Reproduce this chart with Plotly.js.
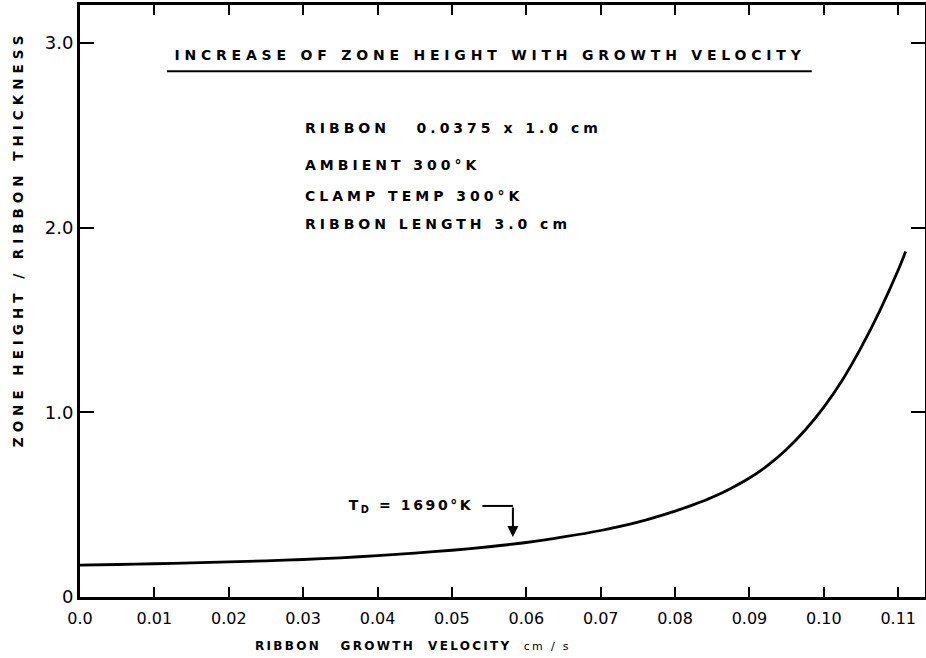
<!DOCTYPE html>
<html>
<head>
<meta charset="utf-8">
<script src="https://cdn.plot.ly/plotly-3.0.1.min.js"></script>
<style>
html,body{margin:0;padding:0;background:#fff;}
#chart{width:926px;height:658px;}
.annotation[data-index="0"] .annotation-text{letter-spacing:4.8px;}
.annotation[data-index="1"] .annotation-text,
.annotation[data-index="2"] .annotation-text,
.annotation[data-index="3"] .annotation-text,
.annotation[data-index="4"] .annotation-text{letter-spacing:4px;}
.annotation[data-index="5"] .annotation-text{letter-spacing:2.6px;}
.annotation[data-index="7"] .annotation-text{letter-spacing:2.3px;}
.annotation[data-index="8"] .annotation-text{letter-spacing:5px;}
</style>
</head>
<body>
<div id="chart"></div>
<script>
// Data
var velocity = [0, 0.005, 0.01, 0.015, 0.02, 0.025, 0.03, 0.035, 0.04, 0.045, 0.05, 0.055, 0.06, 0.065, 0.07, 0.075, 0.08, 0.0825, 0.085, 0.0875, 0.09, 0.0925, 0.095, 0.0975, 0.1, 0.1025, 0.105, 0.1075, 0.11, 0.111];
var zoneRatio = [0.173, 0.176, 0.18, 0.185, 0.19, 0.196, 0.203, 0.212, 0.224, 0.238, 0.253, 0.272, 0.295, 0.325, 0.36, 0.405, 0.465, 0.5, 0.54, 0.588, 0.644, 0.714, 0.8, 0.904, 1.028, 1.175, 1.35, 1.548, 1.77, 1.87];

var xTickVals = [0, 0.01, 0.02, 0.03, 0.04, 0.05, 0.06, 0.07, 0.08, 0.09, 0.10, 0.11];
var xTickText = ["0.0", "0.01", "0.02", "0.03", "0.04", "0.05", "0.06", "0.07", "0.08", "0.09", "0.10", "0.11"];
var yTickVals = [0, 1, 2, 3];
var yTickText = ["0", "1.0", "2.0", "3.0"];

var chartTitle = "INCREASE OF ZONE HEIGHT WITH GROWTH VELOCITY";
var notes = ["RIBBON\u00A0\u00A0 0.0375 x 1.0 cm", "AMBIENT 300°K", "CLAMP TEMP 300°K", "RIBBON LENGTH 3.0 cm"];
var noteY = [2.54, 2.34, 2.17, 2.02];
var markerLabel = "T<sub>D</sub> = 1690°K";
var markerX = 0.0582;
var markerLabelY = 0.493;
var markerTipY = 0.325;
var xTitle = "<b>RIBBON\u00A0\u00A0 GROWTH\u00A0 VELOCITY</b>\u00A0 <span style='font-size:11px'>cm / s</span>";
var yTitle = "<b>ZONE HEIGHT / RIBBON THICKNESS</b>";

var font = "DejaVu Sans, Arial, sans-serif";

var trace = {
  x: velocity, y: zoneRatio, type: "scatter", mode: "lines",
  line: {color: "#000", width: 2.8, shape: "spline", smoothing: 0.6},
  hoverinfo: "skip", showlegend: false
};

var annotations = [
  {xref: "paper", yref: "paper", x: 0.486, y: 0.916, xanchor: "center", yanchor: "middle",
   text: "<b>" + chartTitle + "</b>", showarrow: false, font: {family: font, size: 14, color: "#000"}}
];
for (var i = 0; i < notes.length; i++) {
  annotations.push({xref: "x", yref: "y", x: 0.0300, y: noteY[i], xanchor: "left", yanchor: "middle",
    align: "left", text: "<b>" + notes[i] + "</b>", showarrow: false,
    font: {family: font, size: 14, color: "#000"}});
}
annotations.push({xref: "x", yref: "y", x: 0.0446, y: markerLabelY, xanchor: "center", yanchor: "middle",
  text: "<b>" + markerLabel + "</b>", showarrow: false, font: {family: font, size: 14, color: "#000"}});
annotations.push({xref: "x", yref: "y", x: markerX, y: markerTipY, axref: "x", ayref: "y",
  ax: markerX, ay: markerLabelY, text: "", showarrow: true, arrowhead: 2, arrowsize: 1.1,
  arrowwidth: 2, arrowcolor: "#000", standoff: 0, startstandoff: 0});
annotations.push({xref: "paper", yref: "paper", x: 0.394, y: -0.083, xanchor: "center", yanchor: "middle",
  text: xTitle, showarrow: false, font: {family: font, size: 12, color: "#000"}});
annotations.push({xref: "paper", yref: "paper", x: -0.073, y: 0.605, xanchor: "center", yanchor: "middle",
  textangle: -90, text: yTitle, showarrow: false, font: {family: font, size: 13.5, color: "#000"}});

var layout = {
  width: 926, height: 658,
  margin: {l: 80, r: 1, t: 5, b: 61},
  paper_bgcolor: "#fff", plot_bgcolor: "#fff",
  font: {family: font, color: "#000"},
  xaxis: {
    range: [0, 0.1136], tickvals: xTickVals, ticktext: xTickText,
    ticks: "inside", ticklen: 10, tickwidth: 2, tickcolor: "#000",
    showline: true, linewidth: 3, linecolor: "#000", mirror: "ticks",
    showgrid: false, zeroline: false, ticklabelstandoff: 5,
    tickfont: {family: font, size: 16, color: "#000"}
  },
  yaxis: {
    range: [0, 3.205], tickvals: yTickVals, ticktext: yTickText,
    ticks: "inside", ticklen: 14, tickwidth: 2, tickcolor: "#000",
    showline: true, linewidth: 3, linecolor: "#000", mirror: "ticks",
    showgrid: false, zeroline: false,
    tickfont: {family: font, size: 18, color: "#000"}
  },
  shapes: [
    {type: "line", xref: "paper", yref: "paper", x0: 0.103, x1: 0.866, y0: 0.888, y1: 0.888,
     line: {color: "#000", width: 2}},
    {type: "line", xref: "x", yref: "y", x0: 0.0541, x1: markerX, y0: markerLabelY, y1: markerLabelY,
     line: {color: "#000", width: 2}}
  ],
  annotations: annotations
};

Plotly.newPlot("chart", [trace], layout, {staticPlot: true, displayModeBar: false});
</script>
</body>
</html>
